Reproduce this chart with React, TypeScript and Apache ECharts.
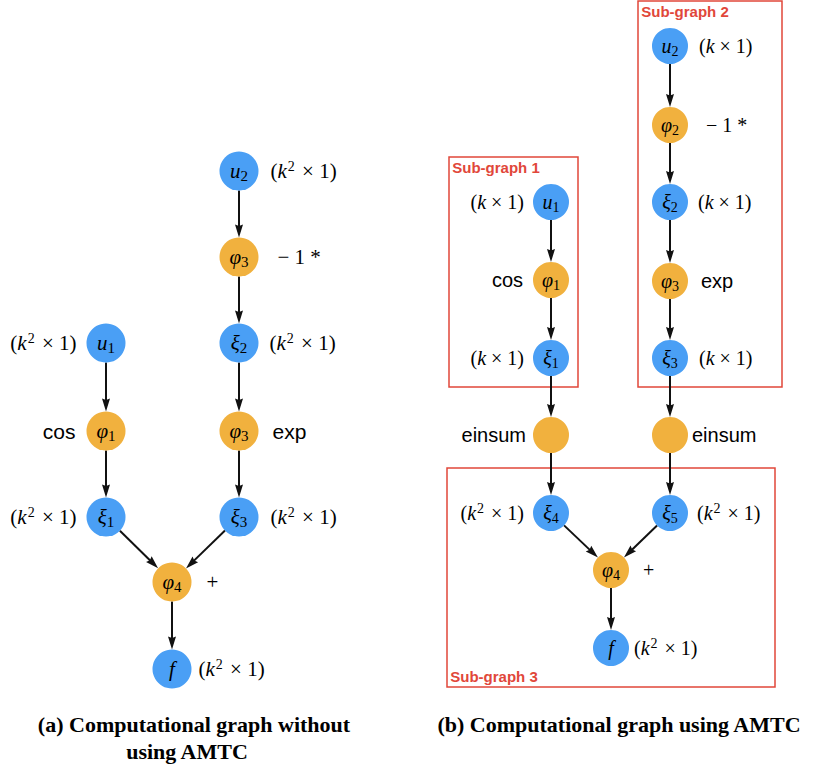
import React, { useEffect, useRef } from "react";
import * as echarts from "echarts";

const W = 813;
const H = 772;

// ---- nodes ----
const nodeIds = [
  "a_u2", "a_phi3t", "a_xi2", "a_u1", "a_phi1", "a_phi3", "a_xi1", "a_xi3", "a_phi4", "a_f",
  "b_u2", "b_phi2", "b_xi2", "b_phi3", "b_xi3", "b_u1", "b_phi1", "b_xi1", "b_einL", "b_einR",
  "b_xi4", "b_xi5", "b_phi4", "b_f",
];
const nodeSymbol = [
  "u", "φ", "ξ", "u", "φ", "φ", "ξ", "ξ", "φ", "f",
  "u", "φ", "ξ", "φ", "ξ", "u", "φ", "ξ", "", "",
  "ξ", "ξ", "φ", "f",
];
const nodeSub = [
  "2", "3", "2", "1", "1", "3", "1", "3", "4", "",
  "2", "2", "2", "3", "3", "1", "1", "1", "", "",
  "4", "5", "4", "",
];
const nodeKind = [
  "var", "op", "var", "var", "op", "op", "var", "var", "op", "var",
  "var", "op", "var", "op", "var", "var", "op", "var", "op", "op",
  "var", "var", "op", "var",
];
const nodeX = [
  239, 239, 239, 106, 106, 239, 106, 239, 172, 172,
  670, 670, 670, 670, 670, 551, 551, 551, 551, 670,
  551, 670, 611, 611,
];
const nodeY = [
  171, 257, 343, 343, 431, 431, 517, 517, 582, 669,
  46, 125, 202, 281, 358, 202, 280, 358, 435, 435,
  513, 513, 570, 648,
];

// ---- edges ----
const edgeFrom = [
  "a_u2", "a_phi3t", "a_xi2", "a_phi3", "a_u1", "a_phi1", "a_xi1", "a_xi3", "a_phi4",
  "b_u1", "b_phi1", "b_xi1", "b_einL", "b_u2", "b_phi2", "b_xi2", "b_phi3", "b_xi3", "b_einR",
  "b_xi4", "b_xi5", "b_phi4",
];
const edgeTo = [
  "a_phi3t", "a_xi2", "a_phi3", "a_xi3", "a_phi1", "a_xi1", "a_phi4", "a_phi4", "a_f",
  "b_phi1", "b_xi1", "b_einL", "b_xi4", "b_phi2", "b_xi2", "b_phi3", "b_xi3", "b_einR", "b_xi5",
  "b_phi4", "b_phi4", "b_f",
];

// ---- annotations ----
const annNode = [
  "a_u2", "a_phi3t", "a_xi2", "a_u1", "a_phi1", "a_phi3", "a_xi1", "a_xi3", "a_phi4", "a_f",
  "b_u2", "b_phi2", "b_xi2", "b_phi3", "b_xi3", "b_u1", "b_phi1", "b_xi1", "b_einL", "b_einR",
  "b_xi4", "b_xi5", "b_phi4", "b_f",
];
const annText = [
  "(k^2 × 1)", "− 1 *", "(k^2 × 1)", "(k^2 × 1)", "cos", "exp", "(k^2 × 1)", "(k^2 × 1)", "+", "(k^2 × 1)",
  "(k × 1)", "− 1 *", "(k × 1)", "exp", "(k × 1)", "(k × 1)", "cos", "(k × 1)", "einsum", "einsum",
  "(k^2 × 1)", "(k^2 × 1)", "+", "(k^2 × 1)",
];
const annFont = [
  "serif", "serif", "serif", "serif", "sans", "sans", "serif", "serif", "serif", "serif",
  "serif", "serif", "serif", "sans", "serif", "serif", "sans", "serif", "sans", "sans",
  "serif", "serif", "serif", "serif",
];
const annSide = [
  "right", "right", "right", "left", "left", "right", "left", "right", "right", "right",
  "right", "right", "right", "right", "right", "left", "left", "left", "left", "right",
  "left", "right", "right", "right",
];
const annGap = [
  12, 19, 11, 10, 11, 14, 10, 12, 15, 7,
  11, 18, 10, 13, 11, 9, 10, 9, 7, 4,
  9, 9, 14, 5,
];

// ---- sub-graph boxes ----
const boxNames = ["Sub-graph 1", "Sub-graph 2", "Sub-graph 3"];
const boxX0 = [449, 638, 447];
const boxY0 = [157, 1, 468];
const boxX1 = [578, 782, 775];
const boxY1 = [387, 387, 687];
const boxLabelPos = ["insideTopLeft", "insideTopLeft", "insideBottomLeft"];

// ---- captions ----
const captions = ["(a) Computational graph without", "using AMTC", "(b) Computational graph using AMTC"];
const captionX = [194, 187, 619];
const captionY = [724, 751, 724];

const BLUE = "#4A9FF5";
const ORANGE = "#F1B13E";
const RED = "#E1473A";
const INK = "#000000";
const ARROW_W = 8;
const ARROW_L = 13;

const panelOf = (id: string) => id.charAt(0);
const radiusOf = (id: string) => (panelOf(id) === "a" ? 19.5 : 18);
const fsOf = (id: string) => (panelOf(id) === "a" ? 21 : 20);
const idx = (id: string) => nodeIds.indexOf(id);

function mathRich(text: string) {
  // k -> italic, ^2 -> superscript
  let out = "";
  let buf = "";
  const flush = () => {
    if (buf.length) out += "{n|" + buf + "}";
    buf = "";
  };
  for (let i = 0; i < text.length; i++) {
    const c = text[i];
    if (c === "k") {
      flush();
      out += "{i|k}";
    } else if (c === "^") {
      flush();
      out += "{p|" + text[i + 1] + "}";
      i++;
    } else buf += c;
  }
  flush();
  return out;
}

export default function App() {
  const ref = useRef<HTMLDivElement>(null);

  useEffect(() => {
    if (!ref.current) return;
    const chart = echarts.init(ref.current, null, { renderer: "svg" });

    const nodeData = nodeIds.map((id, i) => {
      const fs = fsOf(id);
      return {
        name: id,
        value: [nodeX[i], nodeY[i]],
        symbolSize: radiusOf(id) * 2,
        itemStyle: { color: nodeKind[i] === "var" ? BLUE : ORANGE, opacity: 1 },
        label: {
          show: nodeSymbol[i] !== "",
          position: "inside",
          color: INK,
          formatter: "{i|" + nodeSymbol[i] + "}" + (nodeSub[i] ? "{s|" + nodeSub[i] + "}" : ""),
          rich: {
            i: { fontFamily: "Liberation Serif", fontStyle: "italic", fontSize: fs, color: INK },
            s: {
              fontFamily: "Liberation Serif",
              fontSize: Math.round(fs * 0.7),
              color: INK,
              padding: [10, 0, 0, 0],
            },
          },
        },
      };
    });

    const edgeData = edgeFrom.map((f, k) => {
      const a = idx(f);
      const b = idx(edgeTo[k]);
      const ax = nodeX[a], ay = nodeY[a], bx = nodeX[b], by = nodeY[b];
      const dx = bx - ax, dy = by - ay;
      const len = Math.sqrt(dx * dx + dy * dy);
      const ux = dx / len, uy = dy / len;
      const ra = radiusOf(f);
      const rb = radiusOf(edgeTo[k]) + ARROW_L / 2;
      return {
        coords: [
          [ax + ux * ra, ay + uy * ra],
          [bx - ux * rb, by - uy * rb],
        ],
      };
    });

    const annData = annNode.map((id, i) => {
      const n = idx(id);
      const fs = fsOf(id);
      const sans = annFont[i] === "sans";
      return {
        value: [nodeX[n], nodeY[n]],
        symbolSize: 0,
        itemStyle: { opacity: 1 },
        label: {
          show: true,
          position: annSide[i],
          distance: radiusOf(id) + annGap[i],
          color: INK,
          formatter: sans ? "{t|" + annText[i] + "}" : mathRich(annText[i]),
          rich: {
            t: { fontFamily: "Liberation Sans", fontSize: fs, color: INK },
            n: { fontFamily: "Liberation Serif", fontSize: fs, color: INK },
            i: { fontFamily: "Liberation Serif", fontStyle: "italic", fontSize: fs, color: INK },
            p: {
              fontFamily: "Liberation Serif",
              fontSize: Math.round(fs * 0.68),
              color: INK,
              padding: [0, 2, 10, 1],
            },
          },
        },
      };
    });

    const boxData = boxNames.map((name, i) => [
      {
        name,
        coord: [boxX0[i], boxY0[i]],
        label: { position: boxLabelPos[i] },
      },
      { coord: [boxX1[i], boxY1[i]] },
    ]);

    const option = {
      animation: false,
      backgroundColor: "#ffffff",
      grid: { left: 0, right: 0, top: 0, bottom: 0, containLabel: false },
      xAxis: { type: "value", min: 0, max: W, show: false },
      yAxis: { type: "value", min: 0, max: H, inverse: true, show: false },
      graphic: captions.map((t, i) => ({
        type: "text",
        x: captionX[i],
        y: captionY[i],
        style: {
          text: t,
          fontFamily: "Liberation Serif",
          fontWeight: "bold",
          fontSize: 22,
          fill: "#000",
          align: "center",
          verticalAlign: "middle",
        },
      })),
      series: [
        {
          type: "lines",
          coordinateSystem: "cartesian2d",
          z: 2,
          symbol: ["none", "path://M5,0L10,13L5,11.5L0,13Z"],
          symbolSize: [0, [ARROW_W, ARROW_L]],
          lineStyle: { color: "#111", width: 2, opacity: 1, curveness: 0 },
          itemStyle: { color: "#111" },
          silent: true,
          data: edgeData,
          markArea: {
            silent: true,
            itemStyle: { color: "rgba(0,0,0,0)", borderColor: RED, borderWidth: 1.5, opacity: 1 },
            label: {
              show: true,
              color: RED,
              fontFamily: "Liberation Sans",
              fontWeight: "bold",
              fontSize: 15,
              distance: 4,
            },
            data: boxData,
          },
        },
        {
          type: "scatter",
          z: 3,
          silent: true,
          itemStyle: { opacity: 1 },
          data: nodeData,
        },
        {
          type: "scatter",
          z: 4,
          silent: true,
          itemStyle: { opacity: 1 },
          data: annData,
        },
      ],
    };

    chart.setOption(option as any);
    return () => chart.dispose();
  }, []);

  return (
    <div
      ref={ref}
      style={{ position: "absolute", left: 0, top: 0, width: W, height: H, background: "#fff" }}
    />
  );
}
